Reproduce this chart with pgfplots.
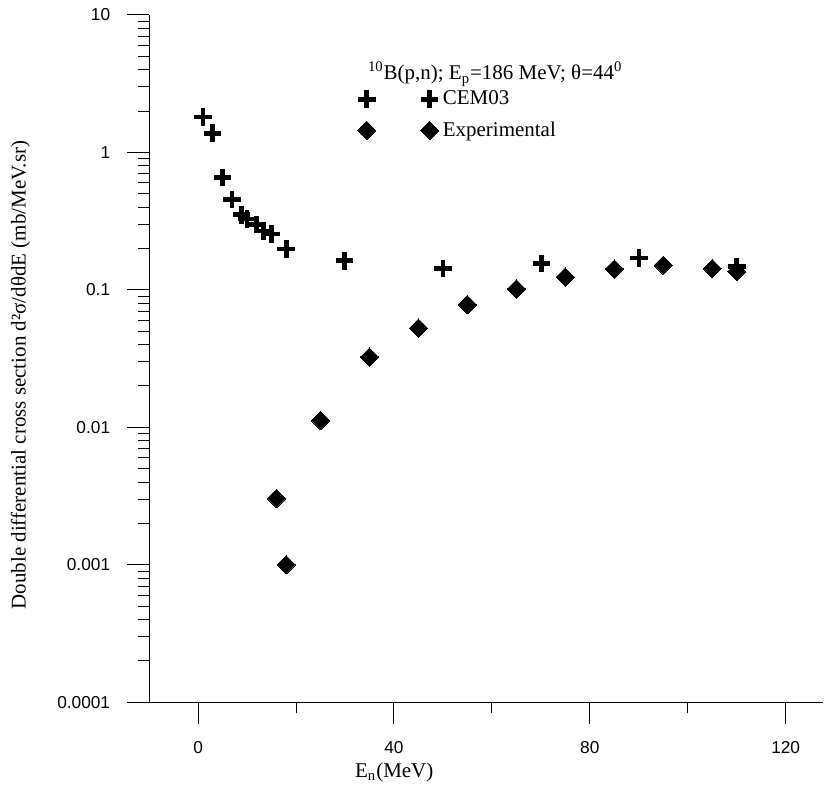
\documentclass[border=0pt]{standalone}
\usepackage{fontspec}
\setmainfont{Liberation Serif}
\newfontfamily\arial{Liberation Sans}
\usepackage{pgfplots}
\pgfplotsset{compat=1.18}
\pgfplotsset{twomark legend/.style={legend image code/.code={\draw[##1] plot coordinates {(0pt,0pt) (31.5pt,0pt)};}}}
\begin{document}
\begin{tikzpicture}
\begin{axis}[
  scale only axis, width=337.5pt, height=344pt,
  xmin=-10, xmax=127.7, ymode=log, ymin=1e-4, ymax=10,
  axis x line=bottom, axis y line=left,
  axis line style={-, line width=0.6pt, black},
  tick align=outside,
  major tick length=11pt, minor tick length=5.5pt,
  tick style={black, line width=0.5pt},
  xtick={0,40,80,120}, minor xtick={20,60,100},
  xticklabels={0,40,80,120},
  ytick={1e-4,1e-3,1e-2,1e-1,1,10},
  yticklabels={0.0001,0.001,0.01,0.1,1,10},
  tick label style={font=\arial\fontsize{8.65}{10}\selectfont},
  xticklabel style={yshift=-5pt},
  yticklabel style={xshift=-5pt},
  xlabel={E\textsubscript{n}(MeV)},
  ylabel={Double differential cross section d²σ/dθdE (mb/MeV.sr)},
  label style={font=\fontsize{10.5}{12}\selectfont},
  xlabel style={at={(axis description cs:0.3635,-0.102)}, anchor=center},
  ylabel style={at={(axis description cs:-0.191,0.476)}, anchor=center},
  clip=false,
  legend cell align=left,
  legend style={draw=none, fill=none, font=\fontsize{10.5}{12}\selectfont,
    at={(axis description cs:0.2996,0.902)}, anchor=north west,
    row sep=3pt},
]
\addplot[only marks, mark=+, mark size=4.4pt, line width=2.3pt, black, twomark legend]
coordinates {
(1.0,1.81) (2.9,1.38) (5.0,0.658) (6.9,0.453) (8.9,0.352) (10.0,0.329)
(11.9,0.298) (13.3,0.269) (15.0,0.255) (18.0,0.199) (29.9,0.163)
(50.0,0.143) (70.1,0.156) (90.0,0.171) (110.0,0.148)
};
\addlegendentry{CEM03}
\addplot[only marks, mark=square*, mark size=3.25pt, mark options={rotate=45, line width=0pt}, black, twomark legend]
coordinates {
(16.0,0.00304) (18.0,0.001) (25.0,0.0112) (35.0,0.0325) (45.0,0.0528)
(55.0,0.078) (65.0,0.1016) (75.0,0.124) (85.0,0.142) (95.0,0.151)
(105.0,0.143) (110.0,0.136)
};
\addlegendentry{Experimental}
\node[anchor=west, font=\fontsize{10.5}{12}\selectfont, inner sep=0pt] at (axis description cs:0.324,0.914)
  {\textsuperscript{10}B(p,n); E\textsubscript{p}=186 MeV; θ=44\textsuperscript{0}};
\path (axis description cs:-0.2212,-0.1221) rectangle (axis description cs:1,1.0218);
\end{axis}
\end{tikzpicture}
\end{document}
